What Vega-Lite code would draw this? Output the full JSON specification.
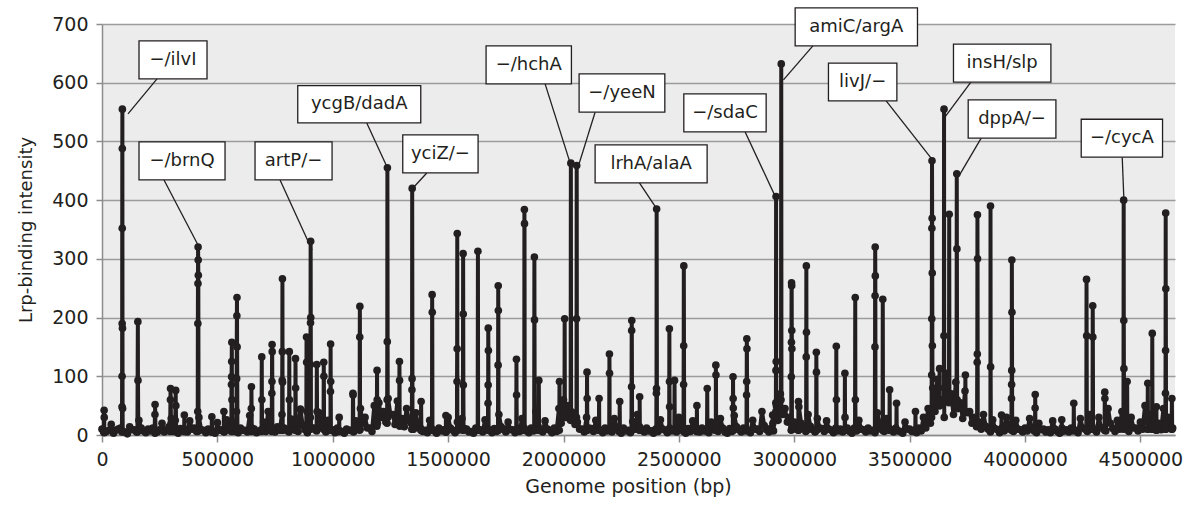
{
"$schema": "https://vega.github.io/schema/vega-lite/v6.json",
"width": 1073, "height": 411,
"autosize": {"type": "none"},
"padding": {"left": 102, "top": 24, "right": 16, "bottom": 71},
"background": "white",
"config": {"view": {"fill": "#ececec", "stroke": null}, "font": "DejaVu Sans"},
"datasets": {
"signal": [
{"p":0,"v":10},{"p":20000,"v":6},{"p":40000,"v":18},{"p":60000,"v":8},{"p":80000,"v":12},{"p":100000,"v":5},{"p":120000,"v":14},{"p":140000,"v":9},{"p":160000,"v":25},{"p":180000,"v":7},
{"p":200000,"v":10},{"p":220000,"v":12},{"p":240000,"v":5},{"p":260000,"v":20},{"p":280000,"v":9},{"p":300000,"v":28},{"p":320000,"v":6},{"p":340000,"v":11},{"p":360000,"v":8},{"p":380000,"v":24},
{"p":400000,"v":12},{"p":420000,"v":30},{"p":440000,"v":8},{"p":460000,"v":10},{"p":480000,"v":5},{"p":500000,"v":21},{"p":520000,"v":9},{"p":540000,"v":26},{"p":560000,"v":11},{"p":580000,"v":7},
{"p":600000,"v":12},{"p":620000,"v":8},{"p":640000,"v":33},{"p":660000,"v":10},{"p":680000,"v":6},{"p":700000,"v":22},{"p":720000,"v":40},{"p":740000,"v":9},{"p":760000,"v":14},{"p":780000,"v":35},
{"p":800000,"v":8},{"p":820000,"v":27},{"p":840000,"v":10},{"p":860000,"v":44},{"p":880000,"v":9},{"p":900000,"v":30},{"p":920000,"v":12},{"p":940000,"v":38},{"p":960000,"v":10},{"p":980000,"v":25},
{"p":1000000,"v":9},{"p":1020000,"v":12},{"p":1040000,"v":6},{"p":1060000,"v":10},{"p":1080000,"v":8},{"p":1100000,"v":24},{"p":1120000,"v":45},{"p":1140000,"v":30},{"p":1160000,"v":12},{"p":1180000,"v":50},
{"p":1200000,"v":55},{"p":1220000,"v":40},{"p":1240000,"v":62},{"p":1260000,"v":35},{"p":1280000,"v":58},{"p":1300000,"v":28},{"p":1320000,"v":45},{"p":1340000,"v":20},{"p":1360000,"v":38},{"p":1380000,"v":12},
{"p":1400000,"v":8},{"p":1420000,"v":25},{"p":1440000,"v":7},{"p":1460000,"v":12},{"p":1480000,"v":9},{"p":1500000,"v":30},{"p":1520000,"v":8},{"p":1540000,"v":22},{"p":1560000,"v":28},{"p":1580000,"v":10},
{"p":1600000,"v":6},{"p":1620000,"v":12},{"p":1640000,"v":9},{"p":1660000,"v":26},{"p":1680000,"v":8},{"p":1700000,"v":11},{"p":1720000,"v":35},{"p":1740000,"v":10},{"p":1760000,"v":22},{"p":1780000,"v":9},
{"p":1800000,"v":10},{"p":1820000,"v":28},{"p":1840000,"v":7},{"p":1860000,"v":12},{"p":1880000,"v":40},{"p":1900000,"v":9},{"p":1920000,"v":24},{"p":1940000,"v":8},{"p":1960000,"v":12},{"p":1980000,"v":45},
{"p":2000000,"v":60},{"p":2020000,"v":50},{"p":2040000,"v":38},{"p":2060000,"v":22},{"p":2080000,"v":10},{"p":2100000,"v":30},{"p":2120000,"v":11},{"p":2140000,"v":25},{"p":2160000,"v":8},{"p":2180000,"v":12},
{"p":2200000,"v":9},{"p":2220000,"v":28},{"p":2240000,"v":6},{"p":2260000,"v":12},{"p":2280000,"v":8},{"p":2300000,"v":23},{"p":2320000,"v":35},{"p":2340000,"v":9},{"p":2360000,"v":12},{"p":2380000,"v":7},
{"p":2400000,"v":10},{"p":2420000,"v":26},{"p":2440000,"v":8},{"p":2460000,"v":12},{"p":2480000,"v":9},{"p":2500000,"v":30},{"p":2520000,"v":6},{"p":2540000,"v":11},{"p":2560000,"v":24},{"p":2580000,"v":9},
{"p":2600000,"v":12},{"p":2620000,"v":7},{"p":2640000,"v":22},{"p":2660000,"v":10},{"p":2680000,"v":28},{"p":2700000,"v":5},{"p":2720000,"v":11},{"p":2740000,"v":33},{"p":2760000,"v":9},{"p":2780000,"v":12},
{"p":2800000,"v":8},{"p":2820000,"v":25},{"p":2840000,"v":10},{"p":2860000,"v":40},{"p":2880000,"v":9},{"p":2900000,"v":12},{"p":2920000,"v":55},{"p":2940000,"v":70},{"p":2960000,"v":45},{"p":2980000,"v":30},
{"p":3000000,"v":22},{"p":3020000,"v":48},{"p":3040000,"v":12},{"p":3060000,"v":35},{"p":3080000,"v":9},{"p":3100000,"v":28},{"p":3120000,"v":11},{"p":3140000,"v":24},{"p":3160000,"v":8},{"p":3180000,"v":12},
{"p":3200000,"v":10},{"p":3220000,"v":30},{"p":3240000,"v":6},{"p":3260000,"v":12},{"p":3280000,"v":25},{"p":3300000,"v":9},{"p":3320000,"v":12},{"p":3340000,"v":8},{"p":3360000,"v":38},{"p":3380000,"v":11},
{"p":3400000,"v":28},{"p":3420000,"v":9},{"p":3440000,"v":12},{"p":3460000,"v":6},{"p":3480000,"v":22},{"p":3500000,"v":10},{"p":3520000,"v":8},{"p":3540000,"v":12},{"p":3560000,"v":30},{"p":3580000,"v":45},
{"p":3600000,"v":80},{"p":3620000,"v":95},{"p":3640000,"v":60},{"p":3660000,"v":105},{"p":3680000,"v":70},{"p":3700000,"v":90},{"p":3720000,"v":55},{"p":3740000,"v":75},{"p":3760000,"v":40},{"p":3780000,"v":30},
{"p":3800000,"v":22},{"p":3820000,"v":35},{"p":3840000,"v":10},{"p":3860000,"v":26},{"p":3880000,"v":9},{"p":3900000,"v":12},{"p":3920000,"v":30},{"p":3940000,"v":11},{"p":3960000,"v":25},{"p":3980000,"v":9},
{"p":4000000,"v":12},{"p":4020000,"v":28},{"p":4040000,"v":7},{"p":4060000,"v":20},{"p":4080000,"v":10},{"p":4100000,"v":9},{"p":4120000,"v":24},{"p":4140000,"v":6},{"p":4160000,"v":12},{"p":4180000,"v":9},
{"p":4200000,"v":12},{"p":4220000,"v":8},{"p":4240000,"v":28},{"p":4260000,"v":10},{"p":4280000,"v":35},{"p":4300000,"v":9},{"p":4320000,"v":30},{"p":4340000,"v":12},{"p":4360000,"v":45},{"p":4380000,"v":11},
{"p":4400000,"v":25},{"p":4420000,"v":40},{"p":4440000,"v":10},{"p":4460000,"v":30},{"p":4480000,"v":12},{"p":4500000,"v":22},{"p":4520000,"v":50},{"p":4540000,"v":35},{"p":4560000,"v":28},{"p":4580000,"v":20},
{"p":4600000,"v":45},{"p":4620000,"v":30},{"p":4640000,"v":12},
{"p":10000,"v":4},{"p":30000,"v":8},{"p":50000,"v":3},{"p":70000,"v":10},{"p":90000,"v":6},{"p":110000,"v":2},{"p":130000,"v":9},{"p":150000,"v":5},{"p":170000,"v":12},{"p":190000,"v":4},
{"p":210000,"v":7},{"p":230000,"v":3},{"p":250000,"v":9},{"p":270000,"v":5},{"p":290000,"v":14},{"p":310000,"v":6},{"p":330000,"v":3},{"p":350000,"v":8},{"p":370000,"v":5},{"p":390000,"v":10},
{"p":410000,"v":6},{"p":430000,"v":9},{"p":450000,"v":4},{"p":470000,"v":7},{"p":490000,"v":3},{"p":510000,"v":8},{"p":530000,"v":5},{"p":550000,"v":11},{"p":570000,"v":6},{"p":590000,"v":4},
{"p":610000,"v":8},{"p":630000,"v":5},{"p":650000,"v":12},{"p":670000,"v":4},{"p":690000,"v":9},{"p":710000,"v":6},{"p":730000,"v":15},{"p":750000,"v":5},{"p":770000,"v":8},{"p":790000,"v":12},
{"p":810000,"v":5},{"p":830000,"v":10},{"p":850000,"v":6},{"p":870000,"v":16},{"p":890000,"v":4},{"p":910000,"v":12},{"p":930000,"v":7},{"p":950000,"v":14},{"p":970000,"v":5},{"p":990000,"v":9},
{"p":1010000,"v":4},{"p":1030000,"v":7},{"p":1050000,"v":3},{"p":1070000,"v":8},{"p":1090000,"v":5},{"p":1110000,"v":10},{"p":1130000,"v":20},{"p":1150000,"v":12},{"p":1170000,"v":6},{"p":1190000,"v":25},
{"p":1210000,"v":30},{"p":1230000,"v":22},{"p":1250000,"v":35},{"p":1270000,"v":18},{"p":1290000,"v":28},{"p":1310000,"v":14},{"p":1330000,"v":24},{"p":1350000,"v":10},{"p":1370000,"v":16},{"p":1390000,"v":6},
{"p":1410000,"v":4},{"p":1430000,"v":10},{"p":1450000,"v":3},{"p":1470000,"v":7},{"p":1490000,"v":5},{"p":1510000,"v":12},{"p":1530000,"v":4},{"p":1550000,"v":9},{"p":1570000,"v":11},{"p":1590000,"v":5},
{"p":1610000,"v":3},{"p":1630000,"v":8},{"p":1650000,"v":5},{"p":1670000,"v":10},{"p":1690000,"v":4},{"p":1710000,"v":6},{"p":1730000,"v":14},{"p":1750000,"v":5},{"p":1770000,"v":9},{"p":1790000,"v":4},
{"p":1810000,"v":6},{"p":1830000,"v":12},{"p":1850000,"v":4},{"p":1870000,"v":7},{"p":1890000,"v":15},{"p":1910000,"v":5},{"p":1930000,"v":10},{"p":1950000,"v":4},{"p":1970000,"v":6},{"p":1990000,"v":20},
{"p":2010000,"v":30},{"p":2030000,"v":25},{"p":2050000,"v":18},{"p":2070000,"v":10},{"p":2090000,"v":5},{"p":2110000,"v":12},{"p":2130000,"v":6},{"p":2150000,"v":10},{"p":2170000,"v":4},{"p":2190000,"v":7},
{"p":2210000,"v":5},{"p":2230000,"v":11},{"p":2250000,"v":3},{"p":2270000,"v":7},{"p":2290000,"v":4},{"p":2310000,"v":10},{"p":2330000,"v":14},{"p":2350000,"v":5},{"p":2370000,"v":7},{"p":2390000,"v":3},
{"p":2410000,"v":6},{"p":2430000,"v":10},{"p":2450000,"v":4},{"p":2470000,"v":7},{"p":2490000,"v":5},{"p":2510000,"v":12},{"p":2530000,"v":3},{"p":2550000,"v":6},{"p":2570000,"v":10},{"p":2590000,"v":5},
{"p":2610000,"v":7},{"p":2630000,"v":4},{"p":2650000,"v":9},{"p":2670000,"v":6},{"p":2690000,"v":12},{"p":2710000,"v":3},{"p":2730000,"v":6},{"p":2750000,"v":14},{"p":2770000,"v":5},{"p":2790000,"v":7},
{"p":2810000,"v":4},{"p":2830000,"v":10},{"p":2850000,"v":6},{"p":2870000,"v":16},{"p":2890000,"v":5},{"p":2910000,"v":7},{"p":2930000,"v":25},{"p":2950000,"v":35},{"p":2970000,"v":22},{"p":2990000,"v":14},
{"p":3010000,"v":10},{"p":3030000,"v":20},{"p":3050000,"v":6},{"p":3070000,"v":15},{"p":3090000,"v":5},{"p":3110000,"v":12},{"p":3130000,"v":6},{"p":3150000,"v":10},{"p":3170000,"v":4},{"p":3190000,"v":7},
{"p":3210000,"v":5},{"p":3230000,"v":12},{"p":3250000,"v":3},{"p":3270000,"v":7},{"p":3290000,"v":10},{"p":3310000,"v":5},{"p":3330000,"v":7},{"p":3350000,"v":4},{"p":3370000,"v":15},{"p":3390000,"v":6},
{"p":3410000,"v":12},{"p":3430000,"v":5},{"p":3450000,"v":7},{"p":3470000,"v":3},{"p":3490000,"v":10},{"p":3510000,"v":6},{"p":3530000,"v":4},{"p":3550000,"v":7},{"p":3570000,"v":12},{"p":3590000,"v":20},
{"p":3610000,"v":40},{"p":3630000,"v":50},{"p":3650000,"v":30},{"p":3670000,"v":55},{"p":3690000,"v":35},{"p":3710000,"v":45},{"p":3730000,"v":28},{"p":3750000,"v":38},{"p":3770000,"v":20},{"p":3790000,"v":14},
{"p":3810000,"v":10},{"p":3830000,"v":15},{"p":3850000,"v":5},{"p":3870000,"v":11},{"p":3890000,"v":4},{"p":3910000,"v":7},{"p":3930000,"v":12},{"p":3950000,"v":6},{"p":3970000,"v":10},{"p":3990000,"v":5},
{"p":4010000,"v":7},{"p":4030000,"v":12},{"p":4050000,"v":4},{"p":4070000,"v":9},{"p":4090000,"v":5},{"p":4110000,"v":4},{"p":4130000,"v":10},{"p":4150000,"v":3},{"p":4170000,"v":7},{"p":4190000,"v":5},
{"p":4210000,"v":7},{"p":4230000,"v":4},{"p":4250000,"v":12},{"p":4270000,"v":6},{"p":4290000,"v":15},{"p":4310000,"v":5},{"p":4330000,"v":12},{"p":4350000,"v":7},{"p":4370000,"v":20},{"p":4390000,"v":6},
{"p":4410000,"v":10},{"p":4430000,"v":18},{"p":4450000,"v":6},{"p":4470000,"v":12},{"p":4490000,"v":7},{"p":4510000,"v":10},{"p":4530000,"v":22},{"p":4550000,"v":15},{"p":4570000,"v":12},{"p":4590000,"v":9},
{"p":4610000,"v":20},{"p":4630000,"v":14},
{"p":7200,"v":5},{"p":9200,"v":42},{"p":9700,"v":30},{"p":11200,"v":5},
{"p":86300,"v":5},{"p":86800,"v":48},{"p":87100,"v":100},{"p":87400,"v":190},{"p":87700,"v":352},{"p":88000,"v":488},{"p":88300,"v":555},{"p":88800,"v":182},{"p":89300,"v":45},{"p":90300,"v":6},
{"p":153400,"v":5},{"p":155400,"v":193},{"p":155900,"v":93},{"p":157400,"v":8},
{"p":228000,"v":6},{"p":229500,"v":35},{"p":230000,"v":52},{"p":232000,"v":8},
{"p":295100,"v":6},{"p":296600,"v":60},{"p":297100,"v":79},{"p":299100,"v":20},{"p":317500,"v":25},{"p":319500,"v":76},{"p":320000,"v":50},{"p":321500,"v":10},
{"p":355800,"v":6},{"p":356800,"v":34},{"p":357800,"v":6},
{"p":414400,"v":6},{"p":414900,"v":40},{"p":415400,"v":190},{"p":415900,"v":258},{"p":416400,"v":320},{"p":416900,"v":298},{"p":417400,"v":272},{"p":418400,"v":8},
{"p":475100,"v":5},{"p":476100,"v":31},{"p":477100,"v":5},
{"p":527300,"v":6},{"p":528300,"v":40},{"p":529300,"v":6},
{"p":560600,"v":6},{"p":561100,"v":86},{"p":561600,"v":99},{"p":562100,"v":125},{"p":562600,"v":158},{"p":563100,"v":60},{"p":565000,"v":12},{"p":583000,"v":40},{"p":583500,"v":96},{"p":584500,"v":203},{"p":585000,"v":234},{"p":585500,"v":150},{"p":587000,"v":10},
{"p":646100,"v":6},{"p":647100,"v":45},{"p":647600,"v":82},{"p":649100,"v":8},
{"p":691400,"v":6},{"p":692400,"v":133},{"p":692900,"v":60},{"p":693900,"v":8},
{"p":735600,"v":6},{"p":736100,"v":71},{"p":736600,"v":91},{"p":737100,"v":154},{"p":737600,"v":142},{"p":738600,"v":10},
{"p":780400,"v":8},{"p":780900,"v":93},{"p":781400,"v":142},{"p":781900,"v":266},{"p":782400,"v":90},{"p":783400,"v":8},
{"p":810700,"v":8},{"p":811700,"v":142},{"p":812200,"v":60},{"p":813200,"v":8},{"p":837600,"v":8},{"p":838600,"v":130},{"p":839100,"v":80},{"p":840100,"v":8},
{"p":885300,"v":8},{"p":886300,"v":167},{"p":886800,"v":124},{"p":887800,"v":40},
{"p":902700,"v":30},{"p":903200,"v":120},{"p":903700,"v":191},{"p":904200,"v":330},{"p":904700,"v":200},{"p":905700,"v":10},
{"p":930000,"v":10},{"p":931000,"v":120},{"p":932000,"v":40},{"p":960000,"v":15},{"p":961000,"v":124},{"p":961500,"v":100},{"p":962500,"v":10},
{"p":989700,"v":8},{"p":990200,"v":74},{"p":990700,"v":155},{"p":991200,"v":91},{"p":992200,"v":8},
{"p":1027000,"v":6},{"p":1028000,"v":30},{"p":1029000,"v":6},
{"p":1086600,"v":8},{"p":1087600,"v":71},{"p":1088100,"v":68},{"p":1089100,"v":8},
{"p":1116500,"v":8},{"p":1117000,"v":167},{"p":1117500,"v":219},{"p":1118500,"v":10},
{"p":1191000,"v":15},{"p":1192000,"v":110},{"p":1192500,"v":60},{"p":1193500,"v":20},
{"p":1235300,"v":20},{"p":1235800,"v":60},{"p":1236300,"v":159},{"p":1236800,"v":455},{"p":1238300,"v":30},
{"p":1288000,"v":20},{"p":1289000,"v":125},{"p":1289500,"v":93},{"p":1290500,"v":15},
{"p":1342700,"v":10},{"p":1343200,"v":77},{"p":1343700,"v":96},{"p":1344200,"v":420},{"p":1345700,"v":10},
{"p":1382000,"v":8},{"p":1383000,"v":57},{"p":1384000,"v":8},
{"p":1429700,"v":8},{"p":1430700,"v":239},{"p":1431200,"v":209},{"p":1432200,"v":8},
{"p":1489400,"v":5},{"p":1490400,"v":33},{"p":1491400,"v":5},
{"p":1538100,"v":8},{"p":1538600,"v":91},{"p":1539100,"v":147},{"p":1539600,"v":343},{"p":1541100,"v":8},
{"p":1564000,"v":8},{"p":1565000,"v":309},{"p":1565500,"v":206},{"p":1566000,"v":85},{"p":1567000,"v":8},
{"p":1628100,"v":8},{"p":1629100,"v":313},{"p":1630100,"v":8},
{"p":1672500,"v":8},{"p":1673000,"v":54},{"p":1673500,"v":85},{"p":1674000,"v":182},{"p":1674500,"v":144},{"p":1675500,"v":8},
{"p":1716100,"v":8},{"p":1716600,"v":119},{"p":1717100,"v":254},{"p":1717600,"v":212},{"p":1718600,"v":8},
{"p":1795100,"v":8},{"p":1796100,"v":129},{"p":1796600,"v":68},{"p":1797600,"v":8},
{"p":1829500,"v":8},{"p":1830500,"v":384},{"p":1831000,"v":360},{"p":1832000,"v":8},
{"p":1872800,"v":8},{"p":1873800,"v":303},{"p":1874300,"v":196},{"p":1875300,"v":8},
{"p":1892000,"v":8},{"p":1893000,"v":93},{"p":1894000,"v":8},
{"p":1981600,"v":8},{"p":1982600,"v":91},{"p":1983600,"v":20},
{"p":2004000,"v":30},{"p":2005000,"v":198},{"p":2006000,"v":40},
{"p":2030900,"v":30},{"p":2031900,"v":463},{"p":2032900,"v":40},
{"p":2056200,"v":30},{"p":2056700,"v":198},{"p":2057200,"v":459},{"p":2058200,"v":20},
{"p":2101000,"v":8},{"p":2102000,"v":107},{"p":2102500,"v":62},{"p":2103500,"v":8},
{"p":2153200,"v":8},{"p":2154200,"v":62},{"p":2155200,"v":8},
{"p":2198000,"v":8},{"p":2199000,"v":138},{"p":2199500,"v":105},{"p":2200500,"v":8},
{"p":2242600,"v":8},{"p":2243600,"v":57},{"p":2244600,"v":8},
{"p":2294400,"v":8},{"p":2294900,"v":82},{"p":2295400,"v":178},{"p":2295900,"v":195},{"p":2297400,"v":8},
{"p":2329000,"v":8},{"p":2330000,"v":65},{"p":2331000,"v":8},
{"p":2402100,"v":8},{"p":2402600,"v":71},{"p":2403100,"v":79},{"p":2403600,"v":385},{"p":2405100,"v":8},
{"p":2457800,"v":8},{"p":2458800,"v":181},{"p":2459300,"v":91},{"p":2459800,"v":48},{"p":2460800,"v":8},
{"p":2480200,"v":8},{"p":2481200,"v":93},{"p":2482200,"v":8},
{"p":2519900,"v":8},{"p":2520400,"v":86},{"p":2520900,"v":152},{"p":2521400,"v":288},{"p":2522900,"v":8},
{"p":2577100,"v":6},{"p":2578100,"v":50},{"p":2579100,"v":6},
{"p":2621900,"v":8},{"p":2622900,"v":79},{"p":2623900,"v":8},
{"p":2659200,"v":8},{"p":2660200,"v":119},{"p":2660700,"v":102},{"p":2661700,"v":8},
{"p":2733700,"v":8},{"p":2734700,"v":99},{"p":2735200,"v":62},{"p":2735700,"v":46},{"p":2736700,"v":8},
{"p":2792900,"v":8},{"p":2793400,"v":68},{"p":2793900,"v":91},{"p":2794400,"v":164},{"p":2794900,"v":147},{"p":2795900,"v":8},
{"p":2905300,"v":8},{"p":2906300,"v":34},{"p":2907300,"v":20},
{"p":2920200,"v":40},{"p":2920700,"v":110},{"p":2921200,"v":406},{"p":2921700,"v":125},{"p":2922700,"v":50},
{"p":2942600,"v":60},{"p":2943600,"v":632},{"p":2944600,"v":40},
{"p":2986800,"v":8},{"p":2987300,"v":99},{"p":2987800,"v":158},{"p":2988300,"v":259},{"p":2988800,"v":254},{"p":2989300,"v":178},{"p":2989800,"v":147},{"p":2990800,"v":10},
{"p":3017100,"v":8},{"p":3018100,"v":57},{"p":3019100,"v":8},
{"p":3051400,"v":8},{"p":3051900,"v":133},{"p":3052400,"v":288},{"p":3052900,"v":175},{"p":3053900,"v":8},
{"p":3094700,"v":8},{"p":3095700,"v":141},{"p":3096200,"v":107},{"p":3097200,"v":8},
{"p":3181200,"v":8},{"p":3182200,"v":151},{"p":3182700,"v":60},{"p":3183700,"v":8},
{"p":3218500,"v":8},{"p":3219500,"v":105},{"p":3220500,"v":8},
{"p":3263300,"v":8},{"p":3264300,"v":234},{"p":3264800,"v":60},{"p":3265800,"v":8},
{"p":3349300,"v":8},{"p":3349800,"v":150},{"p":3350300,"v":237},{"p":3350800,"v":320},{"p":3351300,"v":271},{"p":3352300,"v":8},
{"p":3382600,"v":8},{"p":3383600,"v":231},{"p":3384600,"v":8},
{"p":3412400,"v":8},{"p":3413400,"v":77},{"p":3414400,"v":8},
{"p":3442300,"v":8},{"p":3443300,"v":54},{"p":3444300,"v":8},
{"p":3524300,"v":8},{"p":3525300,"v":40},{"p":3526300,"v":8},
{"p":3595000,"v":30},{"p":3595500,"v":102},{"p":3596000,"v":198},{"p":3596500,"v":352},{"p":3597000,"v":467},{"p":3597500,"v":369},{"p":3598000,"v":276},{"p":3598500,"v":152},{"p":3599500,"v":40},
{"p":3628700,"v":50},{"p":3629700,"v":113},{"p":3630700,"v":60},
{"p":3648100,"v":60},{"p":3648600,"v":169},{"p":3649100,"v":555},{"p":3650100,"v":80},
{"p":3670500,"v":60},{"p":3671500,"v":376},{"p":3672500,"v":70},
{"p":3703300,"v":50},{"p":3704300,"v":445},{"p":3704800,"v":317},{"p":3705800,"v":60},
{"p":3740600,"v":40},{"p":3741600,"v":102},{"p":3742600,"v":40},
{"p":3792300,"v":20},{"p":3792800,"v":124},{"p":3793300,"v":138},{"p":3793800,"v":375},{"p":3794300,"v":300},{"p":3795300,"v":20},
{"p":3849500,"v":10},{"p":3850500,"v":390},{"p":3851000,"v":116},{"p":3852000,"v":10},
{"p":3897200,"v":8},{"p":3898200,"v":34},{"p":3899200,"v":8},
{"p":3941000,"v":8},{"p":3941500,"v":62},{"p":3942000,"v":86},{"p":3942500,"v":110},{"p":3943000,"v":298},{"p":3943500,"v":209},{"p":3944500,"v":8},
{"p":4043300,"v":8},{"p":4043800,"v":46},{"p":4044300,"v":69},{"p":4045300,"v":8},
{"p":4158200,"v":6},{"p":4159200,"v":26},{"p":4160200,"v":6},
{"p":4210400,"v":8},{"p":4211400,"v":54},{"p":4212400,"v":8},
{"p":4265600,"v":10},{"p":4266600,"v":265},{"p":4267100,"v":169},{"p":4268100,"v":10},
{"p":4292500,"v":10},{"p":4293500,"v":220},{"p":4294000,"v":167},{"p":4295000,"v":10},
{"p":4344700,"v":8},{"p":4345700,"v":73},{"p":4346200,"v":62},{"p":4347200,"v":8},
{"p":4426600,"v":10},{"p":4427600,"v":400},{"p":4428100,"v":195},{"p":4428600,"v":113},{"p":4429600,"v":20},
{"p":4441600,"v":20},{"p":4442600,"v":91},{"p":4443600,"v":10},
{"p":4531100,"v":10},{"p":4532100,"v":88},{"p":4533100,"v":10},
{"p":4550500,"v":10},{"p":4551500,"v":173},{"p":4552500,"v":10},
{"p":4568400,"v":8},{"p":4569400,"v":48},{"p":4570400,"v":8},
{"p":4608200,"v":10},{"p":4608700,"v":71},{"p":4609200,"v":144},{"p":4609700,"v":378},{"p":4610200,"v":249},{"p":4611200,"v":10},
{"p":4635500,"v":10},{"p":4636500,"v":62},{"p":4637500,"v":10}
],
"labels": [
{"t":"−/ilvI","bx1":160400,"bx2":455100,"by1":606.5,"by2":671.2,"cx":307750,"cy":638.9,"lx":238400,"ly":606.5,"px":112700,"py":547},
{"t":"−/brnQ","bx1":160400,"bx2":533200,"by1":434.4,"by2":499.2,"cx":346800,"cy":466.8,"lx":268700,"ly":434.4,"px":416100,"py":323.7},
{"t":"artP/−","bx1":663200,"bx2":997000,"by1":434.4,"by2":499.2,"cx":830100,"cy":466.8,"lx":771600,"ly":434.4,"px":910300,"py":315},
{"t":"ycgB/dadA","bx1":848300,"bx2":1381400,"by1":531.5,"by2":595,"cx":1114850,"cy":563.3,"lx":1147400,"ly":531.5,"px":1235400,"py":456.6},
{"t":"yciZ/−","bx1":1303400,"bx2":1629800,"by1":446.3,"by2":511,"cx":1466600,"cy":478.7,"lx":1407500,"ly":446.3,"px":1343700,"py":419},
{"t":"−/hchA","bx1":1664500,"bx2":2034300,"by1":598,"by2":662.7,"cx":1849400,"cy":630.4,"lx":1920200,"ly":598,"px":2029000,"py":463},
{"t":"−/yeeN","bx1":2067600,"bx2":2439100,"by1":549.8,"by2":615,"cx":2253350,"cy":582.4,"lx":2136960,"ly":549.8,"px":2062000,"py":455},
{"t":"lrhA/alaA","bx1":2137000,"bx2":2622400,"by1":429.3,"by2":494,"cx":2379700,"cy":461.7,"lx":2329000,"ly":429.3,"px":2401400,"py":386.7},
{"t":"−/sdaC","bx1":2521400,"bx2":2878200,"by1":516.2,"by2":581,"cx":2699800,"cy":548.6,"lx":2787200,"ly":516.2,"px":2925000,"py":400},
{"t":"amiC/argA","bx1":3003900,"bx2":3534000,"by1":662.7,"by2":727.4,"cx":3268950,"cy":695,"lx":3080600,"ly":662.7,"px":2953200,"py":604.8},
{"t":"livJ/−","bx1":3148200,"bx2":3444700,"by1":569,"by2":633.2,"cx":3296450,"cy":601.1,"lx":3398300,"ly":569,"px":3596400,"py":469.7},
{"t":"insH/slp","bx1":3690000,"bx2":4112200,"by1":600.9,"by2":665.6,"cx":3901100,"cy":633.2,"lx":3765500,"ly":600.9,"px":3652000,"py":541},
{"t":"dppA/−","bx1":3753800,"bx2":4133900,"by1":505.5,"by2":570.7,"cx":3943850,"cy":538.1,"lx":3810100,"ly":505.5,"px":3712000,"py":440},
{"t":"−/cycA","bx1":4243600,"bx2":4596000,"by1":473.1,"by2":537.8,"cx":4419800,"cy":505.4,"lx":4421300,"ly":473.1,"px":4428600,"py":400.3}
]
},
"layer": [
{
"data": {"name": "signal"},
"mark": {"type": "line", "color": "#231f20", "strokeWidth": 4, "strokeJoin": "round", "point": {"filled": true, "size": 58, "color": "#231f20", "opacity": 1}},
"encoding": {
"x": {"field": "p", "type": "quantitative", "scale": {"domain": [0, 4650000], "nice": false, "zero": true},
"axis": {"values": [0,500000,1000000,1500000,2000000,2500000,3000000,3500000,4000000,4500000], "format": "d", "title": "Genome position (bp)", "grid": false, "domainColor": "#8c8c8c", "domainWidth": 1.5, "tickColor": "#8c8c8c", "tickWidth": 1.5, "tickSize": 7, "labelFont": "DejaVu Sans", "labelFontSize": 19, "labelColor": "#231f20", "labelPadding": 8, "labelFlush": false, "titleFont": "DejaVu Sans", "titleFontSize": 19, "titleFontWeight": "normal", "titleColor": "#231f20", "titlePadding": 8, "titleX": 526}},
"y": {"field": "v", "type": "quantitative", "scale": {"domain": [0, 700], "nice": false},
"axis": {"values": [0,100,200,300,400,500,600,700], "title": "Lrp-binding intensity", "grid": true, "gridColor": "#9b9b9b", "gridWidth": 1.5, "domainColor": "#8c8c8c", "domainWidth": 1.5, "tickColor": "#8c8c8c", "tickWidth": 1.5, "tickSize": 6, "labelFont": "DejaVu Sans", "labelFontSize": 19, "labelColor": "#231f20", "labelPadding": 8, "titleFont": "DejaVu Sans", "titleFontSize": 18, "titleFontWeight": "normal", "titleColor": "#231f20", "titlePadding": 16}}
}
},
{
"data": {"name": "labels"},
"mark": {"type": "rule", "color": "#231f20", "strokeWidth": 1.3},
"encoding": {"x": {"field": "lx", "type": "quantitative"}, "y": {"field": "ly", "type": "quantitative"}, "x2": {"field": "px"}, "y2": {"field": "py"}}
},
{
"data": {"name": "labels"},
"mark": {"type": "rect", "fill": "white", "stroke": "#231f20", "strokeWidth": 1.3},
"encoding": {"x": {"field": "bx1", "type": "quantitative"}, "x2": {"field": "bx2"}, "y": {"field": "by1", "type": "quantitative"}, "y2": {"field": "by2"}}
},
{
"data": {"name": "labels"},
"mark": {"type": "text", "font": "DejaVu Sans", "fontSize": 18, "color": "#231f20", "align": "center", "baseline": "middle"},
"encoding": {"x": {"field": "cx", "type": "quantitative"}, "y": {"field": "cy", "type": "quantitative"}, "text": {"field": "t"}}
}
]
}
